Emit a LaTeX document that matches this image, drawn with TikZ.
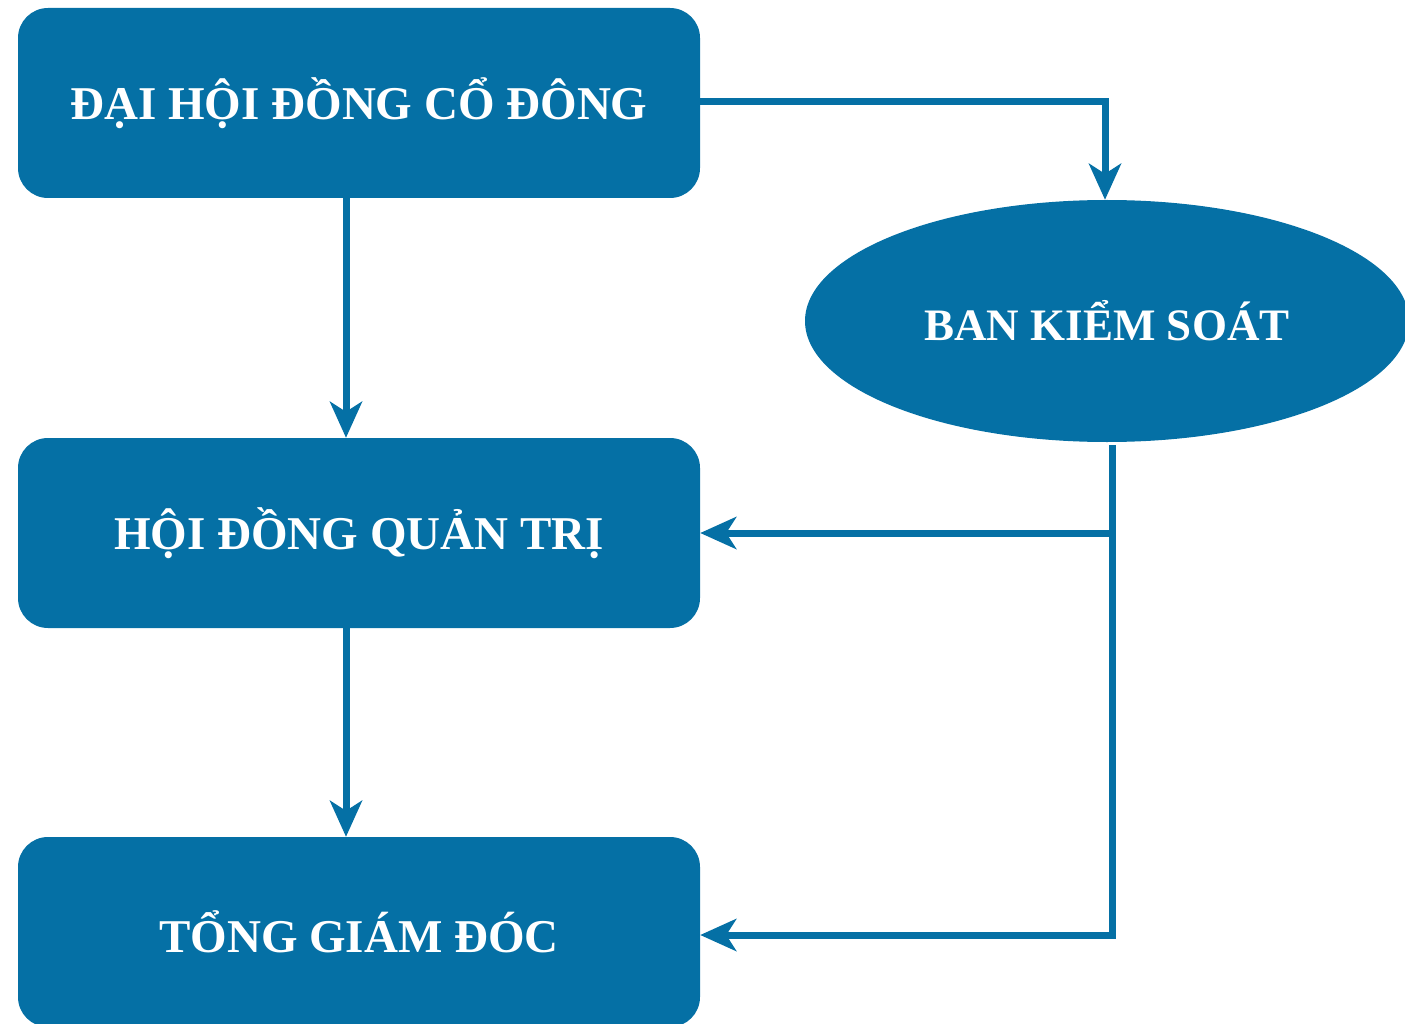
\documentclass[tikz,border=0pt]{standalone}
\usepackage{fontspec}
\setmainfont{Liberation Serif}
\usetikzlibrary{shapes.geometric,arrows.meta}
\definecolor{orgblue}{HTML}{0570A5}

\begin{document}
\begin{tikzpicture}[x=1pt,y=-1pt,
  box/.style={rectangle,rounded corners=30pt,fill=orgblue,text=white,
    minimum width=682pt,minimum height=190pt,inner sep=0pt,
    font=\fontsize{47}{50}\selectfont\bfseries},
  oval/.style={ellipse,fill=orgblue,text=white,
    minimum width=604pt,minimum height=242pt,inner sep=0pt,
    font=\fontsize{45}{50}\selectfont\bfseries},
  link/.style={draw=orgblue,line width=7pt},
  arr/.style={link,-{Stealth[length=36pt,width=32pt,inset=10pt]}}]
  \useasboundingbox (0,0) rectangle (1405,1024);
  \clip (0,0) rectangle (1405,1024);
  % boxes
  \node[box] (dhcd) at (359,103) {ĐẠI HỘI ĐỒNG CỔ ĐÔNG};
  \node[box] (hdqt) at (359,533) {HỘI ĐỒNG QUẢN TRỊ};
  \node[box] (tgd) at (359,932) {TỔNG GIÁM ĐÓC};
  \node[oval] (bks) at (1107,321) {BAN KIỂM SOÁT};

  % connectors
  \draw[arr] ([yshift=1pt]dhcd.east) -| ([xshift=-2pt]bks.north);
  \draw[arr] ([xshift=-13pt]dhcd.south) -- ([xshift=-13pt]hdqt.north);
  \draw[arr] ([xshift=-13pt]hdqt.south) -- ([xshift=-13pt]tgd.north);
  \draw[arr] ([xshift=5pt,yshift=-3pt]bks.south) |- ([yshift=-3pt]tgd.east);
  \draw[arr] ([xshift=5pt]bks.south |- hdqt.east) -- (hdqt.east);
\end{tikzpicture}
\end{document}
